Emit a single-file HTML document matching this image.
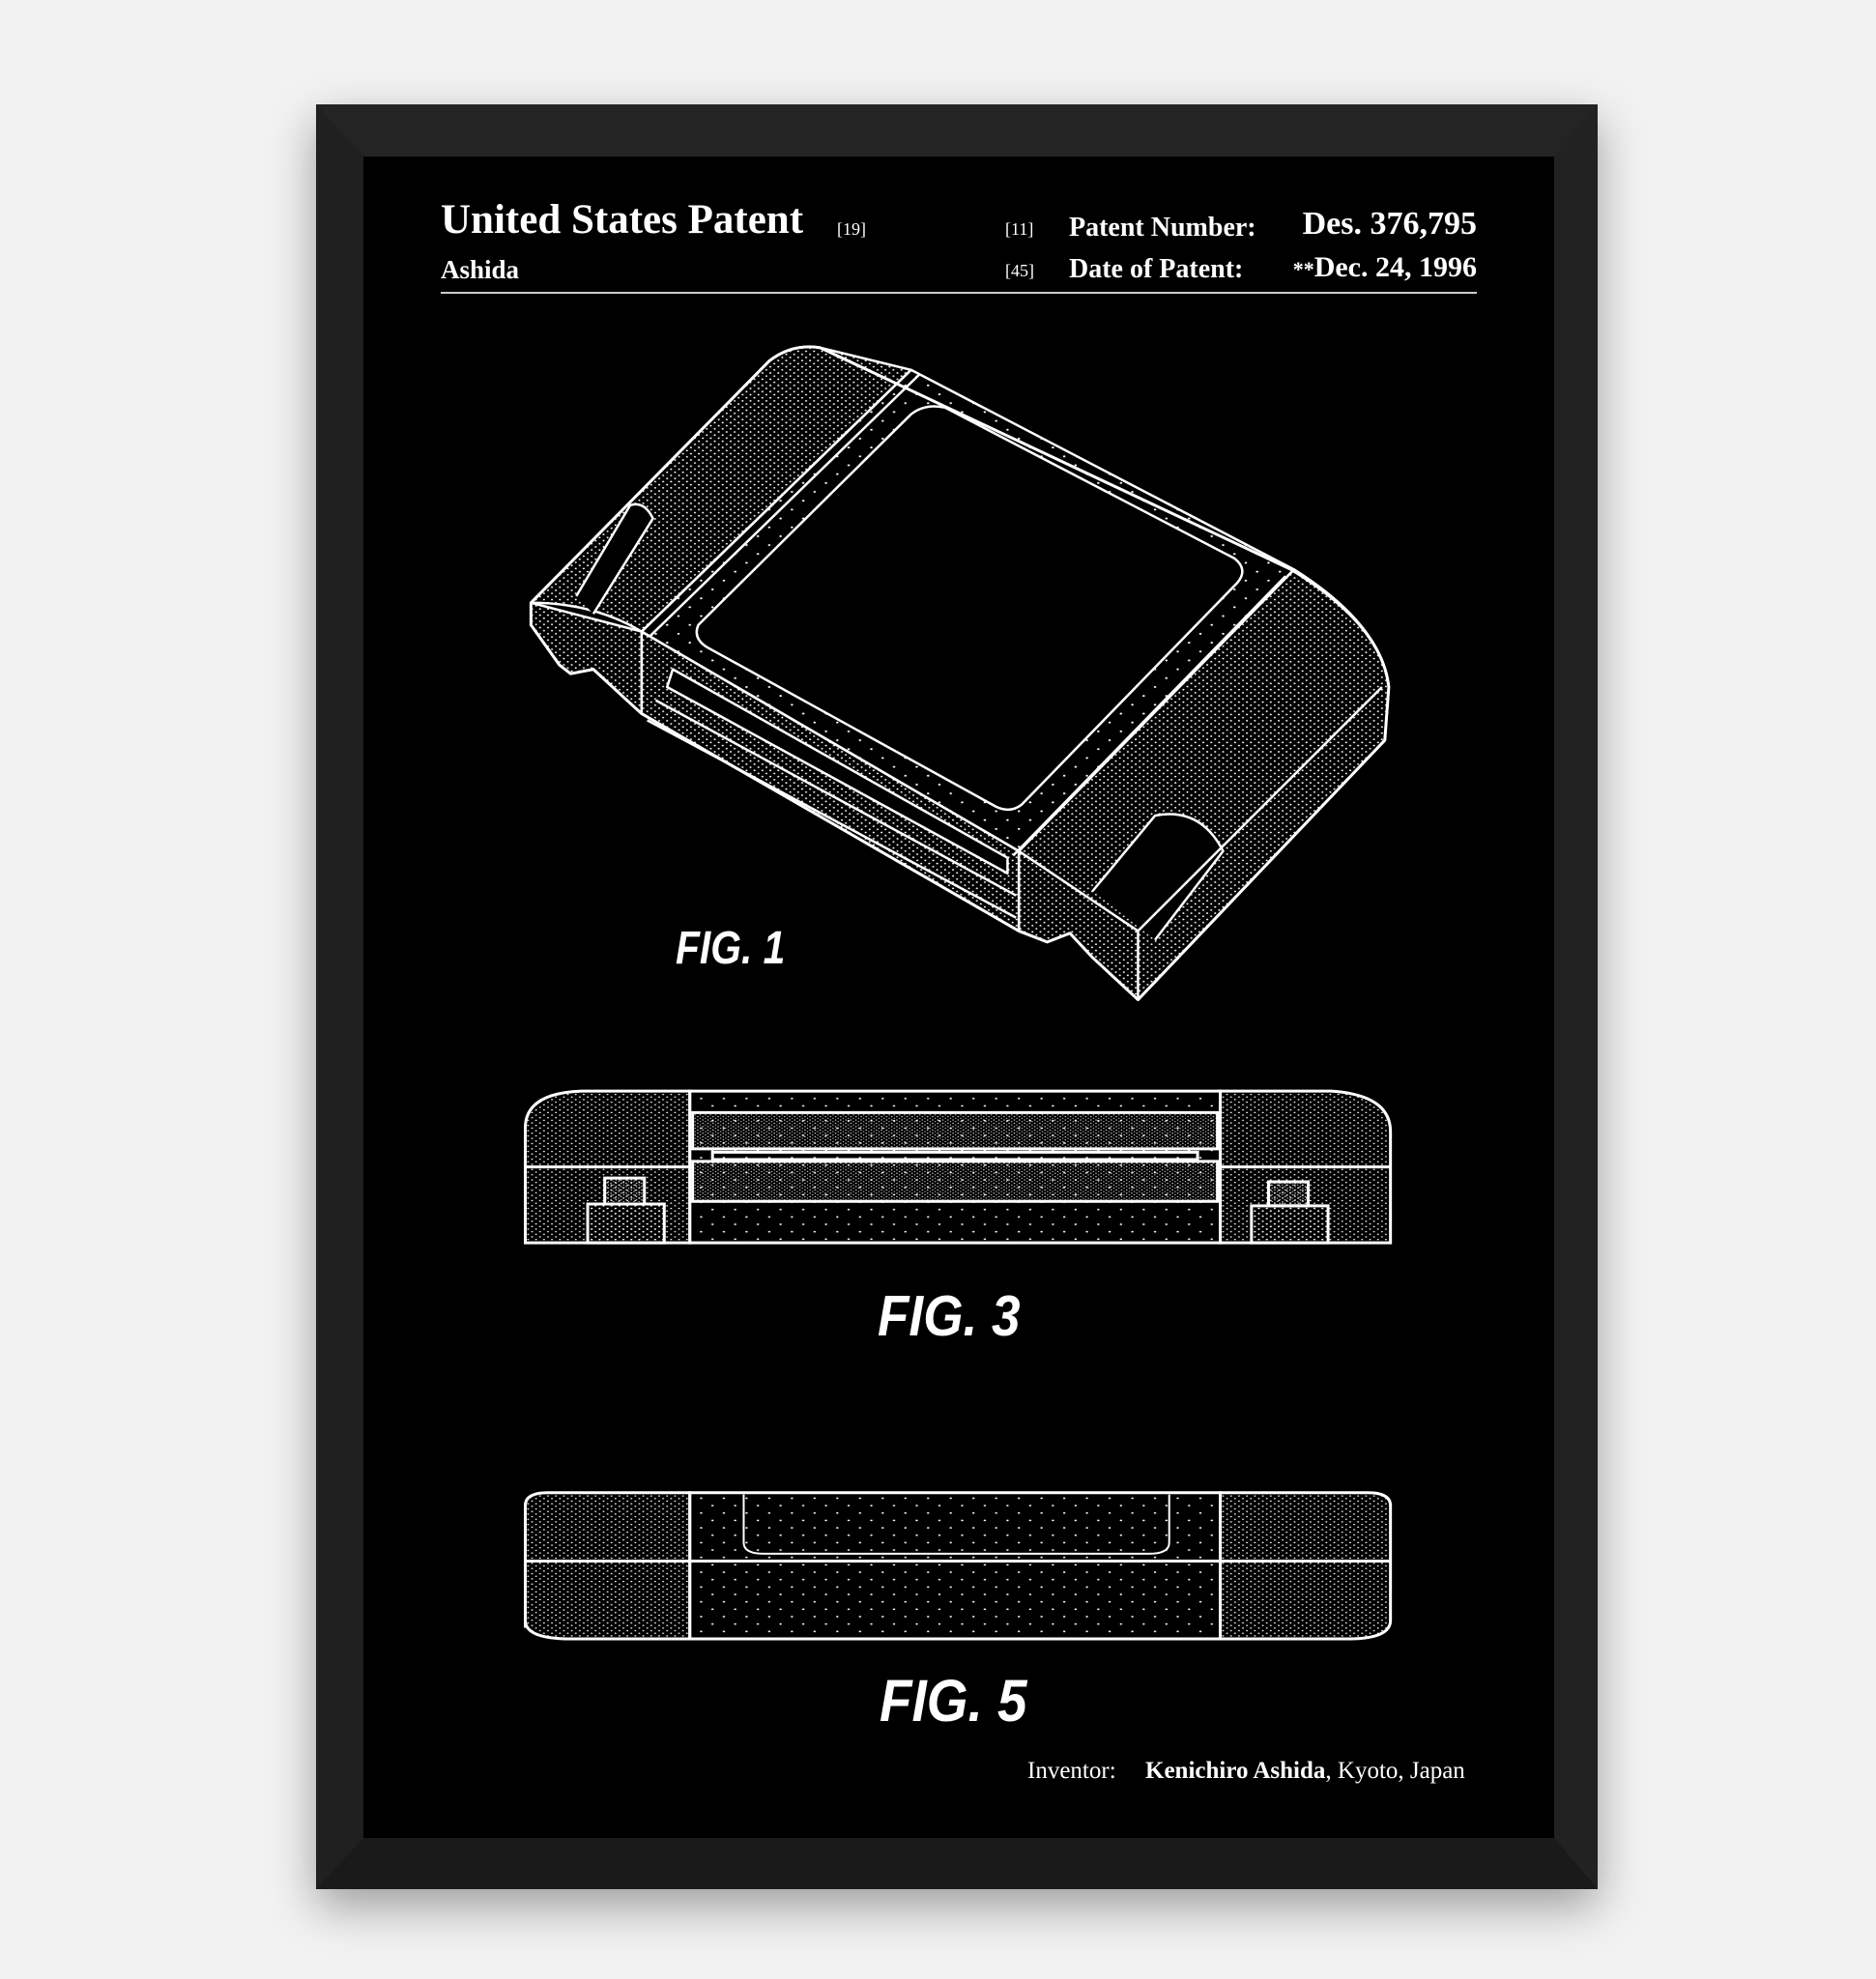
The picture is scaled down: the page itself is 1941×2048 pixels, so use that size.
<!DOCTYPE html>
<html><head><meta charset="utf-8"><style>
html,body{margin:0;padding:0}
body{width:1941px;height:2048px;background:#f2f2f2;position:relative;overflow:hidden;font-family:"Liberation Serif",serif}
.shadow{position:absolute;left:327px;top:108px;width:1326px;height:1847px;box-shadow:0 18px 45px rgba(0,0,0,.35)}
.frame{position:absolute;left:327px;top:108px;width:1326px;height:1847px;background:#1c1c1c}
.inner{position:absolute;left:376px;top:162px;width:1232px;height:1740px;background:#000}
.t{position:absolute;color:#fff;white-space:nowrap;font-weight:bold}
.fig{position:absolute;color:#fff;font-family:"Liberation Sans",sans-serif;font-weight:bold;font-style:italic;white-space:nowrap;transform-origin:0 0}
svg{position:absolute;left:0;top:0}
</style></head><body>
<div class="shadow"></div>
<div class="frame"></div>
<svg width="1941" height="2048">
<polygon points="327,108 1653,108 1608,162 376,162" fill="#242424"/>
<polygon points="327,1955 1653,1955 1608,1902 376,1902" fill="#1a1a1a"/>
<polygon points="327,108 376,162 376,1902 327,1955" fill="#202020"/>
<polygon points="1653,108 1608,162 1608,1902 1653,1955" fill="#222"/>
</svg>
<div class="inner"></div>

<div class="t" style="left:456px;top:203px;font-size:43px">United States Patent</div>
<div class="t" style="left:866px;top:227px;font-size:18px;font-weight:normal">[19]</div>
<div class="t" style="left:1040px;top:227px;font-size:18px;font-weight:normal">[11]</div>
<div class="t" style="left:1106px;top:220px;font-size:28px">Patent Number:</div>
<div class="t" style="left:1330px;top:213px;width:198px;text-align:right;font-size:34px">Des. 376,795</div>
<div class="t" style="left:456px;top:264px;font-size:27px">Ashida</div>
<div class="t" style="left:1040px;top:270px;font-size:18px;font-weight:normal">[45]</div>
<div class="t" style="left:1106px;top:263px;font-size:28px">Date of Patent:</div>
<div class="t" style="left:1300px;top:260px;width:228px;text-align:right;font-size:30px"><span style="font-size:22px">**</span>Dec. 24, 1996</div>
<div style="position:absolute;left:456px;top:302px;width:1072px;height:2px;background:#ccc"></div>

<div class="t" style="left:1063px;top:1819px;font-size:25px;font-weight:normal">Inventor:</div>
<div class="t" style="left:1185px;top:1819px;font-size:25px"><b>Kenichiro Ashida</b><span style="font-weight:normal">, Kyoto, Japan</span></div>

<div class="fig" style="left:699px;top:954px;font-size:48px;transform:scaleX(.85)">FIG. 1</div>
<div class="fig" style="left:908px;top:1328px;font-size:59px;transform:scaleX(.9)">FIG. 3</div>
<div class="fig" style="left:910px;top:1725px;font-size:61px;transform:scaleX(.9)">FIG. 5</div>

<svg width="1941" height="2048">
<defs>
<pattern id="d" width="14" height="14" patternUnits="userSpaceOnUse"><circle cx="3" cy="3" r="1.8" fill="#fff"/><circle cx="10" cy="10" r="1.8" fill="#fff"/></pattern>
<pattern id="s" width="40" height="40" patternUnits="userSpaceOnUse"><circle cx="10" cy="10" r="2.2" fill="#fff"/><circle cx="30" cy="30" r="2.2" fill="#fff"/></pattern>
<pattern id="dd" width="9" height="9" patternUnits="userSpaceOnUse"><circle cx="2" cy="2" r="1.5" fill="#fff"/><circle cx="6.5" cy="6.5" r="1.2" fill="#fff"/></pattern>
</defs>
<!-- FIG 1 -->
<g transform="translate(520,330) scale(0.587,0.459)" stroke="#fff" stroke-width="2.5" fill="none" stroke-linejoin="round">
<path d="M50,640 L470,95 Q510,55 560,65 L720,115 L245,705 Q160,640 50,640 Z" fill="url(#d)" vector-effect="non-scaling-stroke"/>
<path d="M720,115 L1395,565 L910,1200 L245,705 Z" fill="url(#s)" vector-effect="non-scaling-stroke"/>
<path d="M1395,565 Q1550,690 1562,830 L1555,950 L1120,1535 L1040,1440 L1000,1385 L960,1405 L910,1380 L910,1200 Z" fill="url(#d)" vector-effect="non-scaling-stroke"/>
<path d="M50,640 L245,705 L245,890 L215,855 L160,790 L120,800 L100,780 L50,690 Z" fill="url(#d)" vector-effect="non-scaling-stroke"/>
<path d="M245,705 L910,1200 L910,1380 L245,890 Z" fill="url(#d)" vector-effect="non-scaling-stroke"/>
<path d="M345,690 L720,215 Q745,190 780,200 L1290,540 Q1315,565 1295,595 L915,1095 Q895,1115 870,1100 L360,740 Q335,720 345,690 Z" fill="#000" vector-effect="non-scaling-stroke"/>
<path d="M300,790 L890,1215 L890,1250 L290,830 Z" fill="#000" vector-effect="non-scaling-stroke"/>
<path d="M270,860 L905,1300 M255,905 L905,1350" vector-effect="non-scaling-stroke"/>
<path d="M735,125 L260,715" vector-effect="non-scaling-stroke"/>
<path d="M1380,580 L900,1210" vector-effect="non-scaling-stroke"/>
<path d="M130,625 L225,420 Q250,410 265,450 L160,665" fill="#000" vector-effect="non-scaling-stroke"/>
<path d="M1040,1290 L1150,1120 Q1230,1100 1270,1200 L1150,1400" fill="#000" vector-effect="non-scaling-stroke"/>
<path d="M1120,1380 L1550,830 M910,1200 L1120,1380 L1120,1535" vector-effect="non-scaling-stroke"/>
<path d="M50,640 L470,95 Q510,55 560,65 L1390,565 Q1550,690 1562,830 L1555,950 L1120,1535 L1040,1440 L1000,1385 L960,1405 L910,1380 L245,890 L215,855 L160,790 L120,800 L100,780 L50,690 Z" vector-effect="non-scaling-stroke" stroke-width="3"/>
</g>
<!-- FIG 3 and 5 -->
<g transform="translate(520,1110) scale(0.587,0.383)" stroke="#fff" fill="none">
<path d="M40,460 L40,150 Q40,55 140,50 L330,50 L330,460 Z" fill="url(#d)" stroke-width="3" vector-effect="non-scaling-stroke"/>
<path d="M1265,50 L1460,50 Q1565,60 1565,160 L1565,460 L1265,460 Z" fill="url(#d)" stroke-width="3" vector-effect="non-scaling-stroke"/>
<rect x="330" y="50" width="935" height="410" fill="url(#s)" stroke-width="3" vector-effect="non-scaling-stroke"/>
<rect x="335" y="108" width="925" height="98" fill="url(#dd)" stroke-width="3" vector-effect="non-scaling-stroke"/>
<rect x="335" y="240" width="925" height="108" fill="url(#dd)" stroke-width="3" vector-effect="non-scaling-stroke"/>
<path d="M370,215 L1225,215 L1225,235 L370,235 Z M40,255 L330,255 M1265,255 L1565,255" stroke-width="3" vector-effect="non-scaling-stroke"/>
<rect x="150" y="355" width="135" height="105" fill="url(#d)" stroke-width="3" vector-effect="non-scaling-stroke"/>
<rect x="180" y="285" width="70" height="70" fill="url(#dd)" stroke-width="3" vector-effect="non-scaling-stroke"/>
<rect x="1320" y="360" width="135" height="100" fill="url(#d)" stroke-width="3" vector-effect="non-scaling-stroke"/>
<rect x="1350" y="295" width="70" height="65" fill="url(#dd)" stroke-width="3" vector-effect="non-scaling-stroke"/>
<!-- fig5 -->
<path d="M40,1500 L40,1170 Q40,1135 80,1135 L330,1135 L330,1530 L120,1530 Q40,1530 40,1480 Z" fill="url(#d)" stroke-width="3" vector-effect="non-scaling-stroke"/>
<path d="M1265,1135 L1525,1135 Q1565,1135 1565,1170 L1565,1480 Q1565,1530 1490,1530 L1265,1530 Z" fill="url(#d)" stroke-width="3" vector-effect="non-scaling-stroke"/>
<rect x="330" y="1135" width="935" height="395" fill="url(#s)" stroke-width="3" vector-effect="non-scaling-stroke"/>
<path d="M40,1320 L1565,1320" stroke-width="3" vector-effect="non-scaling-stroke"/>
<path d="M425,1140 L425,1270 Q425,1300 460,1300 L1140,1300 Q1175,1300 1175,1270 L1175,1140" stroke-width="2" vector-effect="non-scaling-stroke"/>
</g>
</svg>
</body></html>
